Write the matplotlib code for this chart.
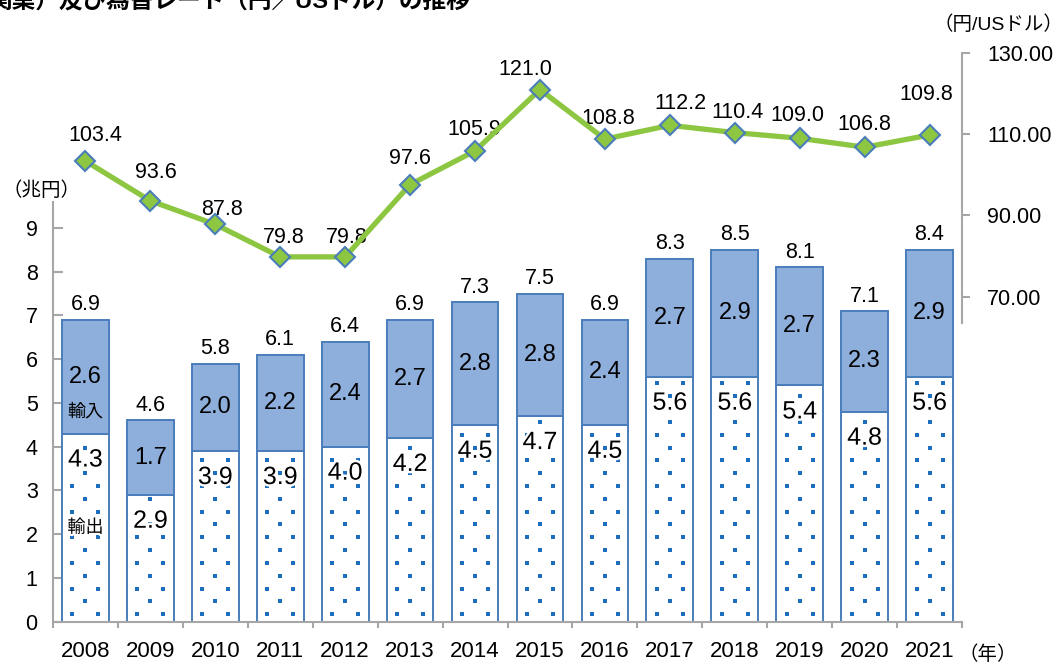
import matplotlib
matplotlib.use("Agg")
import matplotlib.pyplot as plt
import matplotlib.patheffects as pe
from matplotlib.ticker import FixedLocator, FormatStrFormatter
import numpy as np

plt.rcParams['font.family'] = ['Liberation Sans', 'Noto Sans CJK JP', 'DejaVu Sans']

# ---- data ----
years = ['2008', '2009', '2010', '2011', '2012', '2013', '2014',
         '2015', '2016', '2017', '2018', '2019', '2020', '2021']
exports = [4.3, 2.9, 3.9, 3.9, 4.0, 4.2, 4.5, 4.7, 4.5, 5.6, 5.6, 5.4, 4.8, 5.6]
imports = [2.6, 1.7, 2.0, 2.2, 2.4, 2.7, 2.8, 2.8, 2.4, 2.7, 2.9, 2.7, 2.3, 2.9]
totals = [6.9, 4.6, 5.8, 6.1, 6.4, 6.9, 7.3, 7.5, 6.9, 8.3, 8.5, 8.1, 7.1, 8.4]
rates = [103.4, 93.6, 87.8, 79.8, 79.8, 97.6, 105.9, 121.0, 108.8, 112.2,
         110.4, 109.0, 106.8, 109.8]
left_ticks = [0, 1, 2, 3, 4, 5, 6, 7, 8, 9]
right_ticks = [70, 90, 110, 130]

# label placement offsets for rate labels (pixels)
rate_dx = [10, 5, 7, 3, 2, 0, -1, -15, 3, 11, 3, -2, 0, -3]
rate_dy = [26, 28, 15, 19, 19, 26, 21, 20, 21, 22, 20, 23, 23, 41]

W, H = 1061, 664
PX = 72 / 100.0  # points per pixel

BAR_BLUE = '#8EAEDB'
EDGE_BLUE = '#4A7DBA'
DOT_BLUE = '#1E6EBE'
GREEN = '#8DC641'
AXIS_GRAY = '#A6A6A6'

fig = plt.figure(figsize=(W / 100, H / 100), dpi=100)
ax = fig.add_axes([53 / W, 1 - 621.6 / H, (962 - 53) / W, (621.6 - 53) / H])
ax2 = ax.twinx()

x = np.arange(len(years))
bw = 0.72

# export bars (white with a sparse dot texture)
ax.bar(x, exports, width=bw, color='white', edgecolor=EDGE_BLUE, linewidth=1.4, zorder=2)
row_step = 0.293
col_off = 0.2
dots_x, dots_y = [], []
for i in range(len(years)):
    k = 0
    yy = 0.17
    while yy <= exports[i] - 0.05:
        if k % 2 == 0:
            dots_x += [x[i] - col_off, x[i] + col_off]
            dots_y += [yy, yy]
        else:
            dots_x.append(x[i])
            dots_y.append(yy)
        k += 1
        yy = 0.17 + k * row_step
ax.scatter(dots_x, dots_y, marker='s', s=6.5, color=DOT_BLUE, linewidths=0, zorder=2.5)

# import bars
ax.bar(x, imports, bottom=exports, width=bw, color=BAR_BLUE, edgecolor=EDGE_BLUE,
       linewidth=1.4, zorder=3)

for i in range(len(years)):
    ax.annotate(f'{totals[i]:.1f}', (x[i], exports[i] + imports[i]),
                xytext=(0, 15 * PX), textcoords='offset points',
                ha='center', va='center', fontsize=15.5, zorder=5)
    ax.annotate(f'{imports[i]:.1f}', (x[i], exports[i] + imports[i] / 2),
                ha='center', va='center', fontsize=17, zorder=5)
    ax.annotate(f'{exports[i]:.1f}', (x[i], exports[i]),
                xytext=(0, -26 * PX), textcoords='offset points',
                ha='center', va='center', fontsize=18, zorder=5,
                path_effects=[pe.withStroke(linewidth=3.5, foreground='white')])

ax.text(0, 4.80, '輸入', ha='center', va='center', fontsize=13, zorder=6)
ax.text(0, 2.14, '輸出', ha='center', va='center', fontsize=13, zorder=6,
        path_effects=[pe.withStroke(linewidth=3, foreground='white')])

ax.set_xlim(-0.5, len(years) - 0.5)
ax.set_ylim(0, 13)
ax.set_xticks(x)
ax.set_xticklabels(years, fontsize=16)
ax.set_xticks(np.arange(-0.5, len(years), 1.0), minor=True)
ax.tick_params(axis='x', which='major', length=0, pad=14)
ax.tick_params(axis='x', which='minor', length=4.5, width=1.5,
               color=AXIS_GRAY, direction='out')
ax.yaxis.set_major_locator(FixedLocator(left_ticks))
ax.tick_params(axis='y', which='major', direction='in', length=7, width=1.5,
               color=AXIS_GRAY, labelsize=15.5, pad=11)
for s in ['top', 'right']:
    ax.spines[s].set_visible(False)
ax.spines['left'].set_color(AXIS_GRAY)
ax.spines['left'].set_linewidth(1.5)
ax.spines['left'].set_bounds(0, 9.6)
ax.spines['bottom'].set_color(AXIS_GRAY)
ax.spines['bottom'].set_linewidth(1.5)

# exchange rate line
ax2.plot(x, rates, color=GREEN, linewidth=3.8, marker='D', markersize=10,
         markerfacecolor=GREEN, markeredgecolor=EDGE_BLUE, markeredgewidth=1.5,
         zorder=4)
for i in range(len(years)):
    ax2.annotate(f'{rates[i]:.1f}', (x[i], rates[i]),
                 xytext=(rate_dx[i] * PX, rate_dy[i] * PX), textcoords='offset points',
                 ha='center', va='center', fontsize=15.5, zorder=1)
ax2.set_ylim(-10, 130)
ax2.yaxis.set_major_locator(FixedLocator(right_ticks))
ax2.yaxis.set_major_formatter(FormatStrFormatter('%.2f'))
ax2.tick_params(axis='y', direction='out', length=6, width=1.5, color=AXIS_GRAY,
                labelsize=15.5, pad=12)
for s in ['top', 'left', 'bottom']:
    ax2.spines[s].set_visible(False)
ax2.spines['right'].set_color(AXIS_GRAY)
ax2.spines['right'].set_linewidth(1.5)
ax2.spines['right'].set_bounds(63.5, 130)

# unit labels
fig.text(42 / W, 1 - 191 / H, '（兆円）', ha='center', va='center', fontsize=14)
fig.text(998 / W, 1 - 25 / H, '（円/USドル）', ha='center', va='center', fontsize=14)
fig.text(988 / W, 1 - 655 / H, '（年）', ha='center', va='center', fontsize=14)

# title (cut at top of the image, as in the reference)
fig.text(-12 / W, 1 - 7.5 / H, '関業）及び為替レート（円／USドル）の推移',
         ha='left', va='baseline', fontsize=17, fontweight='bold')

fig.savefig('out.png', dpi=100)
